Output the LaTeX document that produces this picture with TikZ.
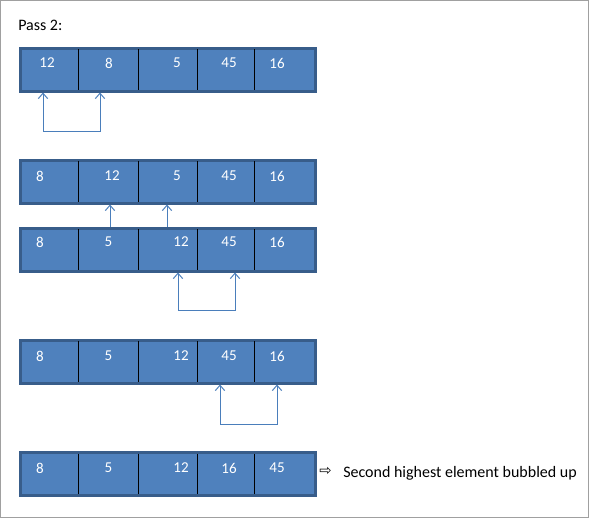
\documentclass[tikz,border=0pt]{standalone}
\usepackage{fontspec}
\setmainfont{Carlito}
\newfontfamily\symfont{DejaVu Sans}
\usetikzlibrary{arrows.meta}
\definecolor{cellfill}{HTML}{4F81BD}
\definecolor{celledge}{HTML}{385D8A}
\definecolor{conncol}{HTML}{4A7EBB}
\definecolor{framecol}{HTML}{A0A0A0}
\tikzset{
  rowbox/.style={draw=celledge, fill=cellfill, line width=2.25pt, minimum width=221.25pt, minimum height=32.25pt, inner sep=0pt},
  div/.style={draw=black, line width=0.75pt, shorten >=2pt, shorten <=2pt},
  num/.style={text=white, font=\fontsize{11.3}{13}\selectfont, inner sep=0pt},
  lbl/.style={text=black, font=\fontsize{12}{14}\selectfont, inner sep=0pt, anchor=west},
  conn/.style={draw=conncol, line width=0.75pt},
  tip/.style={-{Straight Barb[length=4pt,width=7pt]}},
  tips/.style={{Straight Barb[length=4pt,width=7pt]}-{Straight Barb[length=4pt,width=7pt]}}
}
\begin{document}
\begin{tikzpicture}[x=0.75pt,y=-0.75pt]
\useasboundingbox (0,0) rectangle (589,518);
\draw[framecol, line width=0.75pt] (0.5,0.5) rectangle (588.5,517.5);
\node[lbl] (title) at (18,25) {Pass 2:};
% rows
\node[rowbox] (r1) at (167.5,69.5) {};
\node[rowbox] (r2) at (167.5,181.5) {};
\node[rowbox] (r3) at (167.5,249.5) {};
\node[rowbox] (r4) at (167.5,361.5) {};
\node[rowbox] (r5) at (167.5,474) {};
\foreach \r in {r1,r2,r3,r4,r5}{
  \foreach \x in {78,138,197,254}{
    \draw[div] (\x,0 |- \r.north) -- (\x,0 |- \r.south);
  }
}
% numbers
\foreach \x/\t [count=\i] in {47/12,109/8,177/5,229/45,277/16}
  \node[num] (a\i) at (\x,63) {\t};
\foreach \x/\t [count=\i] in {40/8,112/12,177/5,229/45,277/16}
  \node[num] (b\i) at (\x,176) {\t};
\foreach \x/\t [count=\i] in {40/8,108.5/5,181/12,229/45,277/16}
  \node[num] (c\i) at (\x,242) {\t};
\foreach \x/\t [count=\i] in {40/8,108.5/5,181/12,229/45,277/16}
  \node[num] (d\i) at (\x,356) {\t};
\foreach \x/\t [count=\i] in {40/8,108.5/5,181/12,229/16,277/45}
  \node[num] (e\i) at (\x,468) {\t};
% connectors
\coordinate (s1a) at (43,131);
\coordinate (s1b) at (100,131);
\draw[conn,tips] (s1a |- r1.south) -- (s1a) -- (s1b) -- (s1b |- r1.south);
\coordinate (s2a) at (110,0);
\coordinate (s2b) at (167,0);
\draw[conn,tip] (s2a |- r3.north) -- (s2a |- r2.south);
\draw[conn,tip] (s2b |- r3.north) -- (s2b |- r2.south);
\coordinate (s3a) at (178,310);
\coordinate (s3b) at (235,310);
\draw[conn,tips] (s3a |- r3.south) -- (s3a) -- (s3b) -- (s3b |- r3.south);
\coordinate (s4a) at (220,424);
\coordinate (s4b) at (277,424);
\draw[conn,tips] (s4a |- r4.south) -- (s4a) -- (s4b) -- (s4b |- r4.south);
% final note
\node[inner sep=0pt, font=\symfont\fontsize{11}{12}\selectfont] (harr) at (325.5,471) {⇨};
\node[lbl] (note) at (343,473) {Second highest element bubbled up};
\end{tikzpicture}
\end{document}
